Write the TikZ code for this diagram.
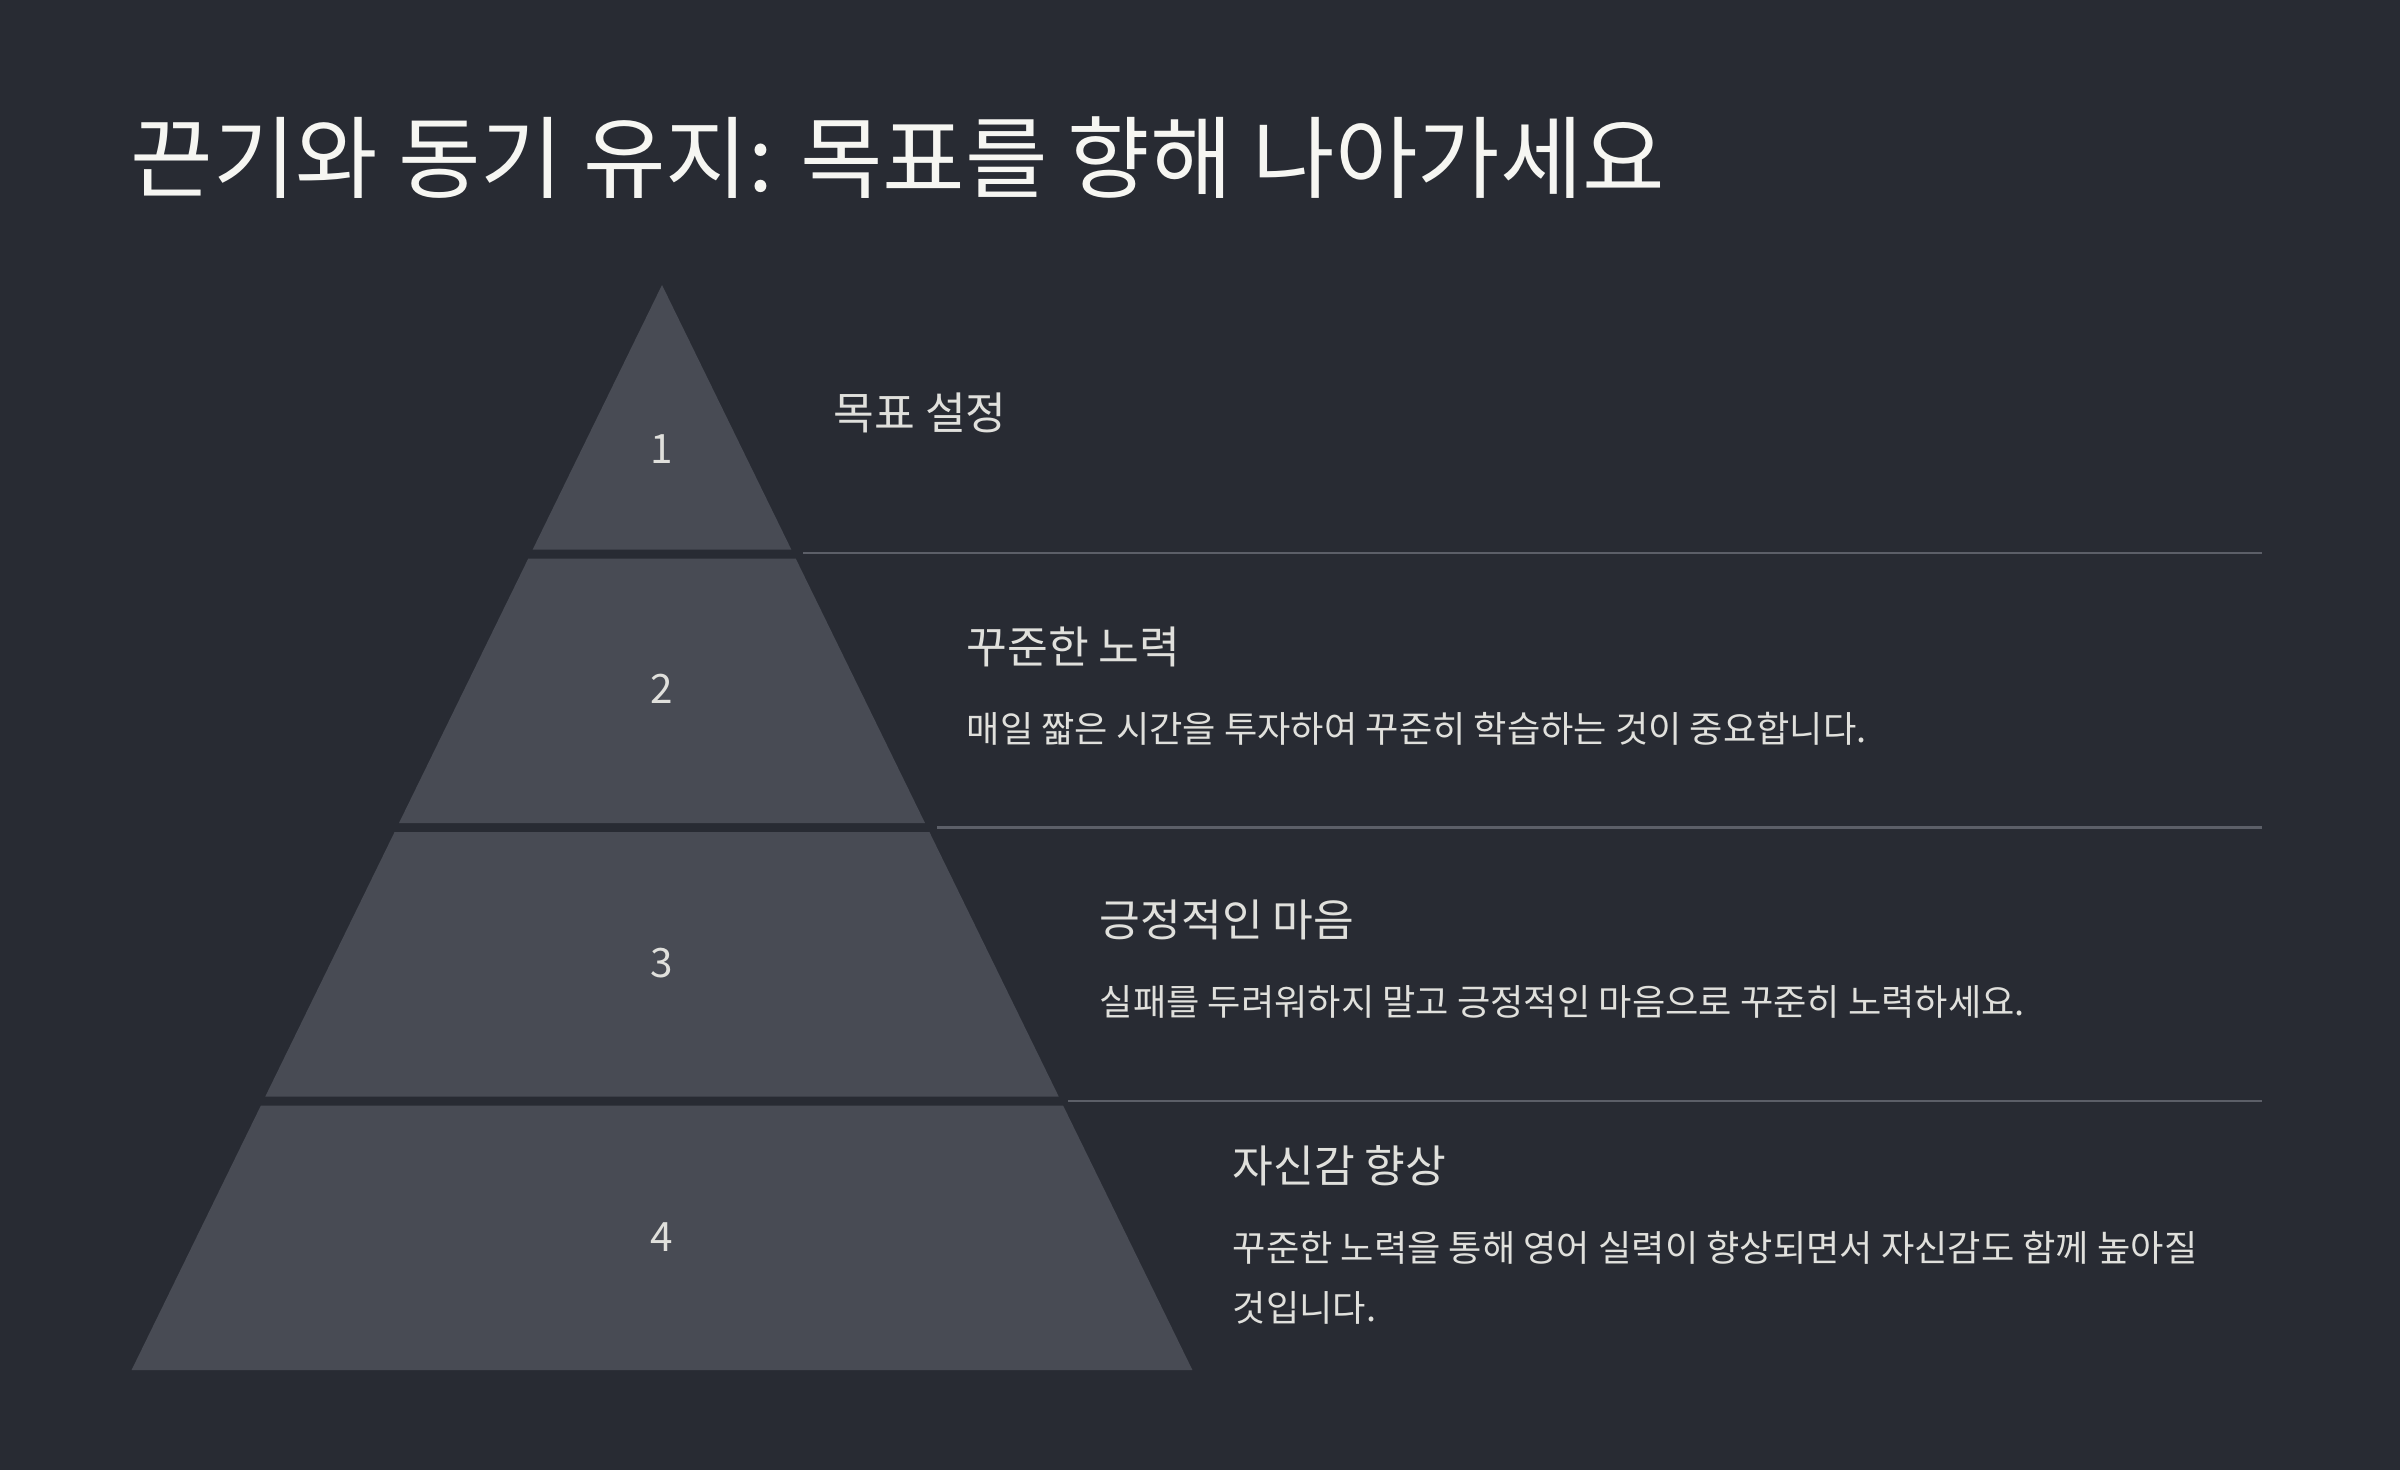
\documentclass[tikz,border=0pt]{standalone}
\usepackage{fontspec}
\setmainfont{Noto Sans CJK KR}
\usepackage{xcolor}
\usetikzlibrary{positioning}
\definecolor{bgdark}{RGB}{40, 43, 51}
\definecolor{layergray}{RGB}{72, 75, 84}
\definecolor{rulegray}{RGB}{92, 95, 104}
\definecolor{softwhite}{RGB}{224, 224, 220}
\definecolor{titlewhite}{RGB}{246, 246, 242}

\begin{document}
\begin{tikzpicture}[
        x=0.01cm, y=-0.01cm,
        layer/.style={fill=layergray},
        num/.style={text=softwhite, font=\fontsize{11.5}{13}\selectfont, inner sep=0pt},
        head/.style={anchor=west, text=softwhite, font=\fontsize{12.6}{15}\selectfont, inner sep=0pt},
        desc/.style={anchor=north west, text=softwhite, font=\fontsize{10.3}{17}\selectfont,
                    align=left, inner sep=0pt},
        sep/.style={draw=rulegray, line width=0.6pt}
      ]
        \fill[bgdark] (0,0) rectangle (2400,1470);
        \useasboundingbox (0,0) rectangle (2400,1470);

        % title
        \node[anchor=west, inner sep=0pt, text=titlewhite, font=\fontsize{25.5}{30}\selectfont]
              (title) at (130,158) {끈기와 동기 유지: 목표를 향해 나아가세요};

        % pyramid layers
        \fill[layer] (662,285) -- (791.3,549.5) -- (532.7,549.5) -- cycle;
        \fill[layer] (528.3,558.5) -- (795.7,558.5) -- (925,823) -- (399,823) -- cycle;
        \fill[layer] (394.6,832) -- (929.4,832) -- (1058.7,1096.5) -- (265.3,1096.5) -- cycle;
        \fill[layer] (260.9,1105.5) -- (1063.1,1105.5) -- (1192.4,1370) -- (131.6,1370) -- cycle;

        \node[num] (n1) at (662,449) {1};
        \node[num] (n2) at (662,689) {2};
        \node[num] (n3) at (662,963) {3};
        \node[num] (n4) at (662,1237) {4};

        % separators
        \coordinate (s1a) at (803,553);
        \coordinate (s1b) at (2262,553);
        \coordinate (s2a) at (937,827.5);
        \coordinate (s2b) at (2262,827.5);
        \coordinate (s3a) at (1068,1101);
        \coordinate (s3b) at (2262,1101);
        \draw[sep] (s1a) -- (s1b);
        \draw[sep] (s2a) -- (s2b);
        \draw[sep] (s3a) -- (s3b);

        % labels
        \node[head] (h1) at (833,413) {목표 설정};
        \node[head] (h2) at (966,647) {꾸준한 노력};
        \node[desc, below=12.5pt of h2.south west, anchor=north west] (d2)
              {매일 짧은 시간을 투자하여 꾸준히 학습하는 것이 중요합니다.};
        \node[head] (h3) at (1099,920) {긍정적인 마음};
        \node[desc, below=12.5pt of h3.south west, anchor=north west] (d3)
              {실패를 두려워하지 말고 긍정적인 마음으로 꾸준히 노력하세요.};
        \node[head] (h4) at (1232,1166) {자신감 향상};
        \node[desc, below=12.5pt of h4.south west, anchor=north west] (d4)
              {꾸준한 노력을 통해 영어 실력이 향상되면서 자신감도 함께 높아질\\것입니다.};
      \end{tikzpicture}
\end{document}
